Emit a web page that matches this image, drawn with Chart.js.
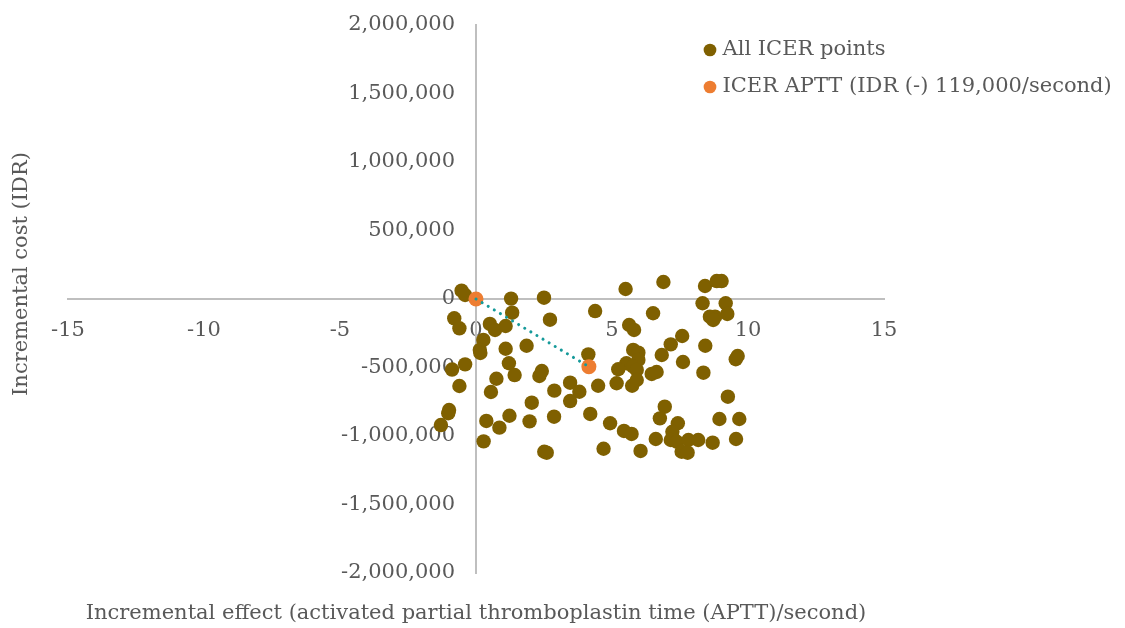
<!DOCTYPE html>
<html><head><meta charset="utf-8">
<script src="https://cdn.jsdelivr.net/npm/chart.js@4.4.1/dist/chart.umd.min.js"></script>
<style>html,body{margin:0;padding:0;background:#fff}#wrap{width:1125px;height:628px}</style>
</head><body><div id="wrap"><canvas id="c" width="1125" height="628"></canvas></div>
<script>
// ---- data ----
const seriesNames = ['All ICER points', 'ICER APTT (IDR (-) 119,000/second)'];
const xTitle = 'Incremental effect (activated partial thromboplastin time (APTT)/second)';
const yTitle = 'Incremental cost (IDR)';
const xTicks = [-15, -10, -5, 0, 5, 10, 15];
const yTicks = [-2000000, -1500000, -1000000, -500000, 0, 500000, 1000000, 1500000, 2000000];

const allX = [-0.53, -0.40, 1.29, 2.50, 5.50, 4.38, 1.33, -0.80, -0.61, 2.72,
  0.51, 0.70, 1.09, 0.27, 0.14, 0.16, 1.09, 1.86, 4.13, 1.21,
  1.42, -0.40, -0.88, -0.61, 0.75, 0.55, 2.33, 2.42, 2.88, 3.46,
  3.80, 3.46, 4.49, 2.05, 5.17, 5.74, -0.99, -1.02, -1.29, 0.38,
  0.86, 1.23, 1.97, 2.87, 4.20, 4.93, 5.44, 5.72, 0.28, 2.51,
  2.60, 4.69, 6.05, 6.89, 8.42, 8.85, 9.03, 8.33, 9.18, 9.24,
  8.60, 8.79, 8.72, 6.51, 5.63, 5.81, 7.58, 7.16, 8.43, 5.78,
  5.97, 6.83, 7.61, 5.97, 5.53, 5.23, 5.78, 5.91, 6.46, 6.64,
  5.91, 8.36, 9.55, 9.62, 9.26, 6.94, 6.76, 7.42, 7.22, 7.16,
  7.38, 7.81, 8.17, 8.70, 8.95, 9.68, 9.56, 6.61, 7.56, 7.78];
const allY = [61000, 29000, 3000, 9500, 73000, -88000, -100000, -141000, -214000, -151000,
  -182000, -226000, -197000, -299000, -372000, -394000, -363000, -341000, -404000, -469000,
  -555000, -477000, -515000, -635000, -582000, -679000, -562000, -526000, -669000, -611000,
  -677000, -745000, -633000, -757000, -615000, -633000, -810000, -834000, -920000, -890000,
  -939000, -852000, -893000, -859000, -839000, -907000, -963000, -985000, -1039000, -1115000,
  -1122000, -1093000, -1109000, 124000, 95000, 131000, 131000, -31000, -31000, -109000,
  -129000, -129000, -153000, -104000, -190000, -226000, -270000, -331000, -341000, -372000,
  -392000, -409000, -460000, -445000, -469000, -513000, -494000, -518000, -547000, -533000,
  -591000, -538000, -440000, -416000, -713000, -786000, -871000, -907000, -969000, -1029000,
  -1042000, -1029000, -1029000, -1049000, -876000, -876000, -1022000, -1022000, -1115000, -1122000];
const icerX = [0, 4.15];
const icerY = [0, -493850];

// ---- styles ----
const TXT = '#595959';
const AXIS = '#bfbfbf';
const FONT = "'DejaVu Serif', serif";
const fmt = v => Number(v).toLocaleString('en-US');

const pts = (xs, ys) => xs.map((x, i) => ({x: x, y: ys[i]}));

const titlesPlugin = {
  id: 'axisTitles',
  afterDraw(chart) {
    const ctx = chart.ctx, a = chart.chartArea;
    ctx.save();
    ctx.fillStyle = TXT;
    ctx.font = "21px " + FONT;
    ctx.textAlign = 'center';
    ctx.textBaseline = 'middle';
    ctx.fillText(xTitle, (a.left + a.right) / 2, 614);
    ctx.translate(22, 274);
    ctx.rotate(-Math.PI / 2);
    ctx.fillText(yTitle, 0, 0);
    ctx.restore();
  }
};
const legendPlace = {
  id: 'legendPlace',
  afterLayout(chart) {
    const lg = chart.legend;
    if (!lg) return;
    lg.left = 692; lg.right = 1125; lg.width = 433;
    lg.top = 23.5;
  }
};

new Chart(document.getElementById('c'), {
  type: 'scatter',
  data: {
    datasets: [
      { label: seriesNames[0], data: pts(allX, allY), order: 2,
        backgroundColor: '#7f6000', borderColor: '#7f6000', borderWidth: 0, pointRadius: 7.2 },
      { label: seriesNames[1], data: pts(icerX, icerY), order: 1,
        backgroundColor: '#ed7d31', borderColor: '#ed7d31', borderWidth: 0, pointRadius: 7.5 },
      { label: 'line', data: pts(icerX, icerY), order: 0, showLine: true,
        borderColor: '#169a9a', borderWidth: 3, borderDash: [0.1, 7], borderCapStyle: 'round',
        pointRadius: 0, backgroundColor: '#169a9a' }
    ]
  },
  options: {
    responsive: false, animation: false, devicePixelRatio: 1, events: [],
    layout: { padding: { left: 68, top: 25, bottom: 55, right: 240 } },
    plugins: {
      tooltip: { enabled: false },
      legend: {
        position: 'right', align: 'start', maxWidth: 1, reverse: true,
        labels: {
          filter: it => it.datasetIndex !== 2,
          usePointStyle: true, boxWidth: 4, boxHeight: 9, padding: 16,
          color: TXT, font: { family: FONT, size: 21 }
        }
      }
    },
    scales: {
      x: {
        type: 'linear', min: -15, max: 15, position: { y: -138700 },
        afterBuildTicks: s => { s.ticks = xTicks.map(v => ({value: v})); },
        grid: { display: false, drawTicks: false },
        border: { display: false },
        ticks: { color: TXT, font: { family: FONT, size: 21 }, padding: 0, maxRotation: 0, autoSkip: false, callback: v => fmt(v) }
      },
      x2: {
        type: 'linear', min: -15, max: 15, position: { y: 0 },
        grid: { display: false, drawTicks: false },
        border: { display: true, color: AXIS, width: 2 },
        ticks: { display: false }
      },
      y: {
        type: 'linear', min: -2000000, max: 2000000, position: { x: -0.77 },
        afterBuildTicks: s => { s.ticks = yTicks.map(v => ({value: v})); },
        grid: { display: false, drawTicks: false },
        border: { display: false },
        ticks: { color: TXT, font: { family: FONT, size: 21 }, padding: 0, autoSkip: false, callback: v => fmt(v) }
      },
      y2: {
        type: 'linear', min: -2000000, max: 2000000, position: { x: 0 },
        grid: { display: false, drawTicks: false },
        border: { display: true, color: AXIS, width: 2 },
        ticks: { display: false }
      }
    }
  },
  plugins: [titlesPlugin, legendPlace]
});
</script></body></html>
